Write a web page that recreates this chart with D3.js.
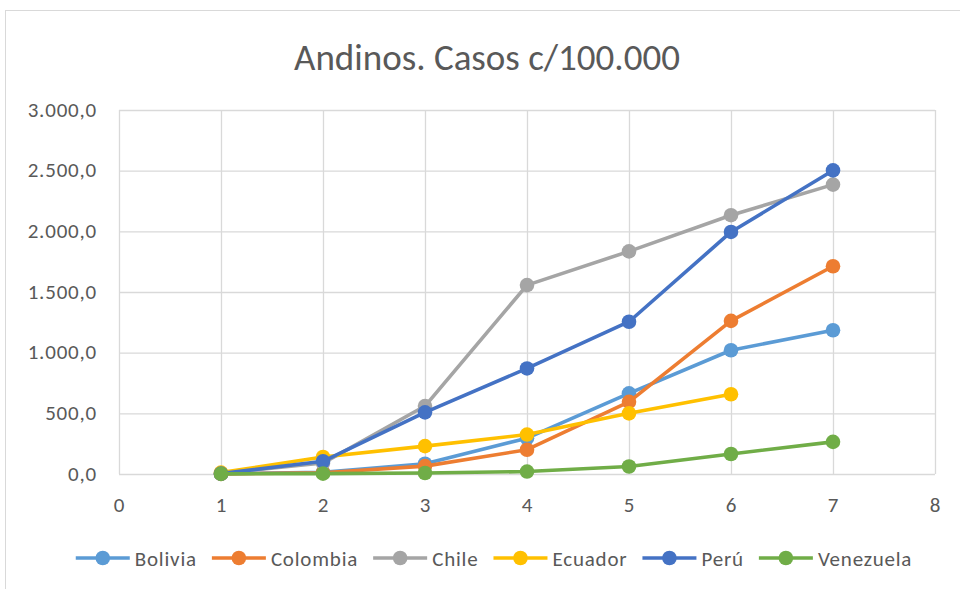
<!DOCTYPE html>
<html>
<head>
<meta charset="utf-8">
<script src="https://cdn.jsdelivr.net/npm/d3@7"></script>
<style>
  body { margin: 0; background: #fff; }
  svg { display: block; }
</style>
</head>
<body>
<svg width="960" height="589"></svg>
<script>
// chart values
var periods = [1, 2, 3, 4, 5, 6, 7];
var countries = ["Bolivia", "Colombia", "Chile", "Ecuador", "Perú", "Venezuela"];
var colors = ["#5b9bd5", "#ed7d31", "#a5a5a5", "#ffc000", "#4472c4", "#70ad47"];
var bolivia = [2, 15, 85, 295, 665, 1020, 1185];
var colombia = [1, 10, 65, 200, 595, 1262, 1712];
var chile = [5, 90, 560, 1557, 1835, 2133, 2385];
var ecuador = [12, 140, 230, 325, 500, 657, null];
var peru = [3, 105, 508, 870, 1255, 1995, 2502];
var venezuela = [1, 3, 8, 20, 62, 165, 265];
var xTicks = [0, 1, 2, 3, 4, 5, 6, 7, 8];
var yTicks = [0, 500, 1000, 1500, 2000, 2500, 3000];

var seriesValues = [bolivia, colombia, chile, ecuador, peru, venezuela];
var fontStack = "Carlito, Calibri, Lato, 'Open Sans', sans-serif";

var svg = d3.select("svg");

// outer chart frame (clipped at right/bottom like the screenshot)
svg.append("rect")
    .attr("x", 5.5).attr("y", 10.5)
    .attr("width", 980).attr("height", 600)
    .attr("fill", "#fff")
    .attr("stroke", "#d9d9d9")
    .attr("stroke-width", 1);

var x = d3.scaleLinear([0, 8], [119, 935]);
var y = d3.scaleLinear([0, 3000], [474, 110]);

var fmt = function(v) {
    return d3.format(",.1f")(v).replace(/,/g, "#").replace(".", ",").replace(/#/g, ".");
};

function labelStyle(sel) {
    sel.attr("fill", "#595959")
        .style("font-family", fontStack)
        .style("font-size", "21px")
        .style("letter-spacing", "0.8px");
}

// gridlines
svg.append("g")
    .attr("transform", "translate(0," + 474 + ")")
    .call(d3.axisBottom(x).tickValues(xTicks).tickSize(-(474 - 110)).tickFormat(""))
    .call(function(g) {
        g.select(".domain").remove();
        g.selectAll("line").attr("stroke", "#d9d9d9").attr("stroke-width", 1.3);
    });

svg.append("g")
    .attr("transform", "translate(119,0)")
    .call(d3.axisLeft(y).tickValues(yTicks).tickSize(-(935 - 119)).tickFormat(""))
    .call(function(g) {
        g.select(".domain").remove();
        g.selectAll("line").attr("stroke", "#d9d9d9").attr("stroke-width", 1.3);
    });

// tick labels
svg.append("g")
    .attr("transform", "translate(97,0)")
    .call(d3.axisLeft(y).tickValues(yTicks).tickSize(0).tickPadding(0).tickFormat(fmt))
    .call(function(g) {
        g.select(".domain").remove();
        g.selectAll("text").call(labelStyle).attr("dy", "0.3em");
    });

svg.append("g")
    .attr("transform", "translate(0,512)")
    .call(d3.axisBottom(x).tickValues(xTicks).tickSize(0).tickPadding(0).tickFormat(d3.format("d")))
    .call(function(g) {
        g.select(".domain").remove();
        g.selectAll("text").call(labelStyle).attr("y", 0).attr("dy", 0);
    });

// title
svg.append("text")
    .attr("x", 487)
    .attr("y", 70)
    .attr("text-anchor", "middle")
    .attr("fill", "#595959")
    .style("font-family", fontStack)
    .style("font-size", "37px")
    .text("Andinos. Casos c/100.000");

// series
var line = d3.line()
    .defined(function(d) { return d != null; })
    .x(function(d, i) { return x(periods[i]); })
    .y(function(d) { return y(d); });

countries.forEach(function(name, k) {
    var vals = seriesValues[k];
    var g = svg.append("g");
    g.append("path")
        .attr("d", line(vals))
        .attr("fill", "none")
        .attr("stroke", colors[k])
        .attr("stroke-width", 3.6)
        .attr("stroke-linejoin", "round");
    g.selectAll("circle")
        .data(vals.map(function(v, i) { return {v: v, i: i}; }).filter(function(d) { return d.v != null; }))
        .enter()
            .append("circle")
            .attr("cx", function(d) { return x(periods[d.i]); })
            .attr("cy", function(d) { return y(d.v); })
            .attr("r", 7.3)
            .attr("fill", colors[k]);
});

// legend
var legend = svg.append("g");
var cursor = 0;
countries.forEach(function(name, k) {
    var item = legend.append("g").attr("transform", "translate(" + cursor + ",0)");
    item.append("line")
        .attr("x1", 0).attr("x2", 54)
        .attr("y1", 0).attr("y2", 0)
        .attr("stroke", colors[k])
        .attr("stroke-width", 3.6);
    item.append("circle")
        .attr("cx", 27).attr("cy", 0).attr("r", 7.3)
        .attr("fill", colors[k]);
    var t = item.append("text")
        .attr("x", 59)
        .attr("y", 8)
        .call(labelStyle)
        .text(name);
    cursor += 59 + t.node().getComputedTextLength() + 15;
});
cursor -= 15;
legend.attr("transform", "translate(" + (494 - cursor / 2) + ",558)");
</script>
</body>
</html>
